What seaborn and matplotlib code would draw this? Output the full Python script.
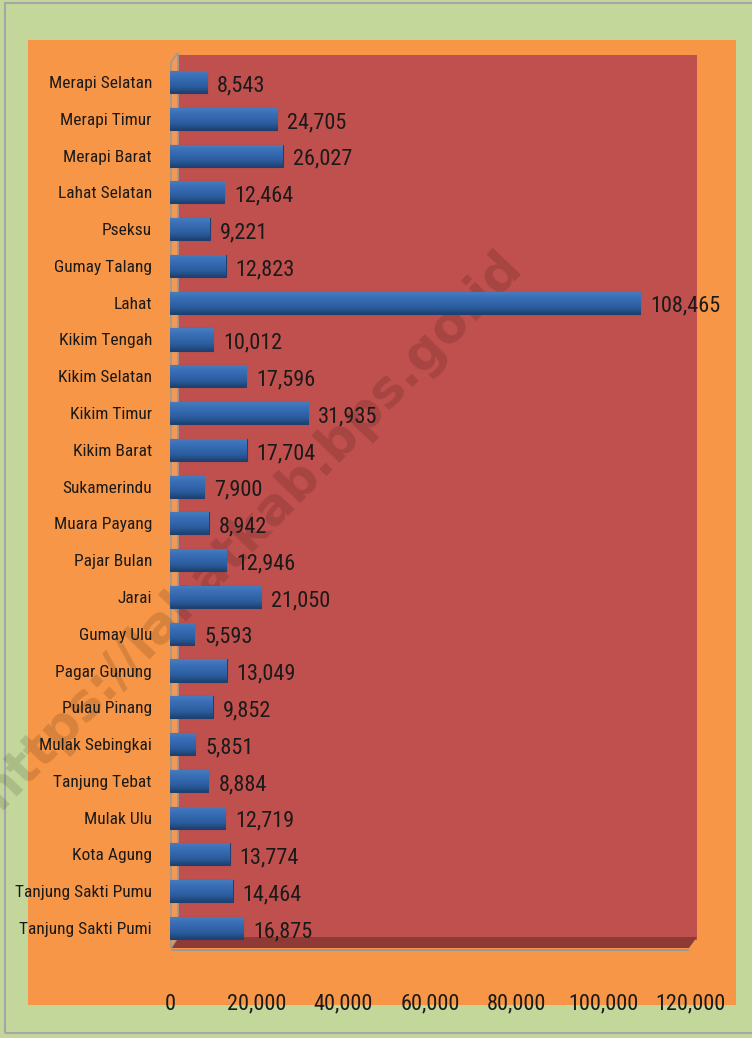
import numpy as np
import pandas as pd
import matplotlib
matplotlib.use("Agg")
import matplotlib.pyplot as plt
from matplotlib import font_manager
from matplotlib.patches import Rectangle, Polygon
import seaborn as sns

sns.set_theme(style="white")

# pick a narrow font if one is installed (the original uses Calibri)
fonts = font_manager.fontManager.ttflist
names = {f.name for f in fonts}
narrow = None
for cand in ["Liberation Sans Narrow", "Roboto Condensed", "Open Sans Condensed",
             "Noto Sans Condensed", "DejaVu Sans Condensed"]:
    if cand in names:
        narrow = cand
        break
if narrow is None:
    for f in fonts:
        if f.name in ("Roboto", "Noto Sans", "Open Sans", "DejaVu Sans") and "condensed" in str(f.stretch):
            narrow = f.name
            plt.rcParams['font.stretch'] = f.stretch
            break
if narrow is None:
    narrow = "Liberation Sans"
plt.rcParams['font.family'] = [narrow, 'DejaVu Sans']

# data: kecamatan and values (top to bottom as in the chart)
kecamatan = ["Merapi Selatan", "Merapi Timur", "Merapi Barat", "Lahat Selatan", "Pseksu",
             "Gumay Talang", "Lahat", "Kikim Tengah", "Kikim Selatan", "Kikim Timur",
             "Kikim Barat", "Sukamerindu", "Muara Payang", "Pajar Bulan", "Jarai",
             "Gumay Ulu", "Pagar Gunung", "Pulau Pinang", "Mulak Sebingkai", "Tanjung Tebat",
             "Mulak Ulu", "Kota Agung", "Tanjung Sakti Pumu", "Tanjung Sakti Pumi"]
nilai = [8543, 24705, 26027, 12464, 9221, 12823, 108465, 10012, 17596, 31935,
         17704, 7900, 8942, 12946, 21050, 5593, 13049, 9852, 5851, 8884,
         12719, 13774, 14464, 16875]
xticks = [0, 20000, 40000, 60000, 80000, 100000, 120000]

df = pd.DataFrame({"kecamatan": kecamatan, "nilai": nilai})

W, H = 752, 1038
fig = plt.figure(figsize=(W / 100, H / 100), dpi=100)
fig.patch.set_facecolor("#C4D79B")


def px(x0, y0, x1, y1):
    # pixel box -> figure fraction (x, y, w, h)
    return x0 / W, 1 - y1 / H, (x1 - x0) / W, (y1 - y0) / H


def rect(x0, y0, x1, y1, **kw):
    x, y, w, h = px(x0, y0, x1, y1)
    fig.patches.append(Rectangle((x, y), w, h, transform=fig.transFigure, **kw))


def poly(pts, **kw):
    p = [(a / W, 1 - b / H) for a, b in pts]
    fig.patches.append(Polygon(p, closed=True, transform=fig.transFigure, **kw))


# outer border, orange area, red plot walls
rect(5, 3, 800, 1033, facecolor="none", edgecolor="#A6A6A6", linewidth=1.5, zorder=-3)
rect(28, 40, 736, 1005, facecolor="#F79646", edgecolor="none", zorder=-3)
rect(178, 55, 697, 940, facecolor="#C0504D", edgecolor="none", zorder=-2)
poly([(171, 948), (689, 948), (697, 937), (178, 937)], facecolor="#8F3A37", edgecolor="none", zorder=-2)
poly([(171, 949), (689, 949), (689, 951), (171, 951)], facecolor="#9A9A9A", edgecolor="none", zorder=-2)
poly([(171, 62), (178, 53), (178, 937), (171, 948)], facecolor="#F29A55", edgecolor="#9A9A9A", linewidth=1.2, zorder=-2)

# watermark, under the bars
fig.text(0.335, 0.49, "https://lahatkab.bps.go.id", rotation=46, fontsize=37,
         fontweight="bold", color="black", alpha=0.13, ha="center", va="center",
         family=["DejaVu Sans"], zorder=-1)

ax = fig.add_axes(px(170, 63.6, 690, 946.4))
ax.set_zorder(1)
ax.set_facecolor("none")

sns.barplot(data=df, x="nilai", y="kecamatan", orient="h", color="#2F63A8",
            width=0.6, edgecolor="#1F3F6E", linewidth=0.8, ax=ax, zorder=3)

# cylinder-like shading on each bar
grad = np.linspace(0, 1, 64).reshape(-1, 1)
cmap = matplotlib.colors.LinearSegmentedColormap.from_list(
    "cyl", ["#4A7DC0", "#3B71B8", "#3266AC", "#2A5A9A", "#1D4170"])
for p in ax.patches:
    x0, y0 = p.get_x(), p.get_y()
    w, h = p.get_width(), p.get_height()
    im = ax.imshow(grad, cmap=cmap, aspect="auto", extent=(x0, x0 + w, y0 + h, y0),
                   zorder=3.5, interpolation="bicubic")
    im.set_clip_path(p)

ax.set_xlim(0, 120000)
ax.set_ylim(len(kecamatan) - 0.5, -0.5)
ax.set_xticks(xticks)
ax.set_xticklabels([f"{v:,}" for v in xticks], fontsize=16, color="#1a1a1a")
ax.tick_params(axis="x", length=0, pad=34)
ax.tick_params(axis="y", length=0, pad=13, labelsize=12.5, labelcolor="#1a1a1a")
ax.set_xlabel("")
ax.set_ylabel("")
for s in ax.spines.values():
    s.set_visible(False)
ax.grid(False)

for i, v in enumerate(nilai):
    ax.text(v + 2300, i + 0.1, f"{v:,}", va="center", ha="left", fontsize=16,
            color="#1a1a1a", zorder=5)

fig.savefig("out.png", dpi=100, facecolor=fig.get_facecolor())
